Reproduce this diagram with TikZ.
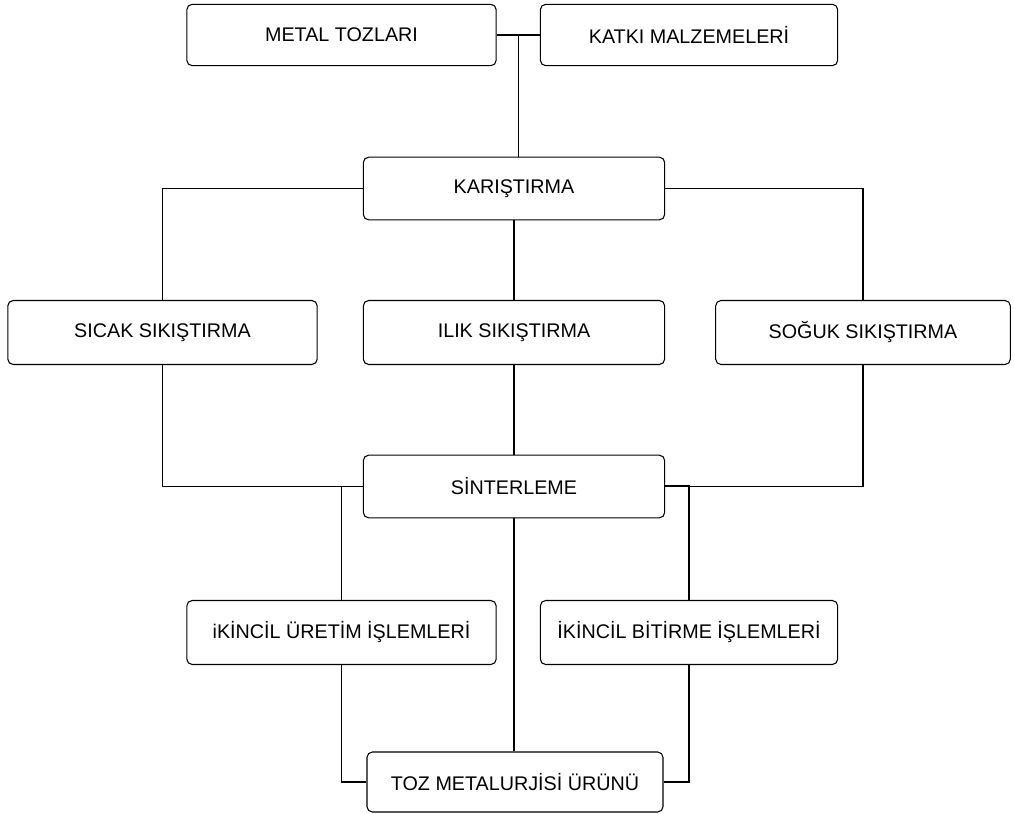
\documentclass[tikz,border=0pt]{standalone}
\usepackage{fontspec}
\setmainfont{Liberation Sans}
\usepackage{tikz}
\usetikzlibrary{positioning,calc}
\tikzset{
	every node/.append style={font=\fontsize{14.8}{17}\selectfont},
	adim/.style = {
			draw,
			rounded corners = 4pt,
			minimum height  = 46pt,
			inner sep       = 2pt,
			line width      = 0.8pt,
		},
	bag/.style = {draw, line width=0.8pt},
}

\begin{document}
\begin{tikzpicture}[x=0.75pt, y=-0.75pt]
	\useasboundingbox (0,0) rectangle (1014,814);
	% ust sira
	\node[adim, minimum width=232pt] (metal) at (341.5,35) {METAL TOZLARI};
	\node[adim, minimum width=223pt] (katki) at (689,35) {KATKI MALZEMELER\.I};
	\node[adim, minimum width=226pt, minimum height=47pt] (karis) at (514,188.5) {KARIŞTIRMA};
	% sikistirma
	\node[adim, minimum width=232pt, minimum height=48pt] (sicak) at (162.5,332.5) {SICAK SIKIŞTIRMA};
	\node[adim, minimum width=226pt, minimum height=48pt] (ilik) at (514,332.5) {ILIK SIKIŞTIRMA};
	\node[adim, minimum width=221pt, minimum height=48pt] (soguk) at (863,332.5) {SOĞUK SIKIŞTIRMA};
	\node[adim, minimum width=226pt, minimum height=47pt] (sinter) at (514,486.5) {S\.INTERLEME};
	% ikincil islemler
	\node[adim, minimum width=232pt, minimum height=48pt] (uretim) at (341.5,632.5) {iK\.INC\.IL ÜRET\.IM \.IŞLEMLER\.I};
	\node[adim, minimum width=223pt, minimum height=48pt] (bitirme) at (689,632.5) {\.IK\.INC\.IL B\.IT\.IRME \.IŞLEMLER\.I};
	\node[adim, minimum width=222pt, minimum height=45pt] (toz) at (515,782) {TOZ METALURJ\.IS\.I ÜRÜNÜ};

	\coordinate (j1) at ($(metal.east)!0.5!(katki.west)$);
	\draw[bag] (metal.east) -- (katki.west);
	\draw[bag] (j1) -- (j1 |- karis.north);

	\draw[bag] (karis.west) -| (sicak.north);
	\draw[bag] (karis.east) -| (soguk.north);
	\draw[bag] (karis.south) -- (ilik.north);

	\draw[bag] (sicak.south) |- (sinter.west);
	\draw[bag] (soguk.south) |- (sinter.east);
	\draw[bag] (ilik.south) -- (sinter.north);

	\draw[bag] (sinter.west) -| (uretim.north);
	\draw[bag] ([yshift=1pt]sinter.east) -| (bitirme.north);
	\draw[bag] (sinter.south) -- (sinter.south |- toz.north);

	\draw[bag] (uretim.south) |- (toz.west);
	\draw[bag] (bitirme.south) |- (toz.east);
\end{tikzpicture}
\end{document}
